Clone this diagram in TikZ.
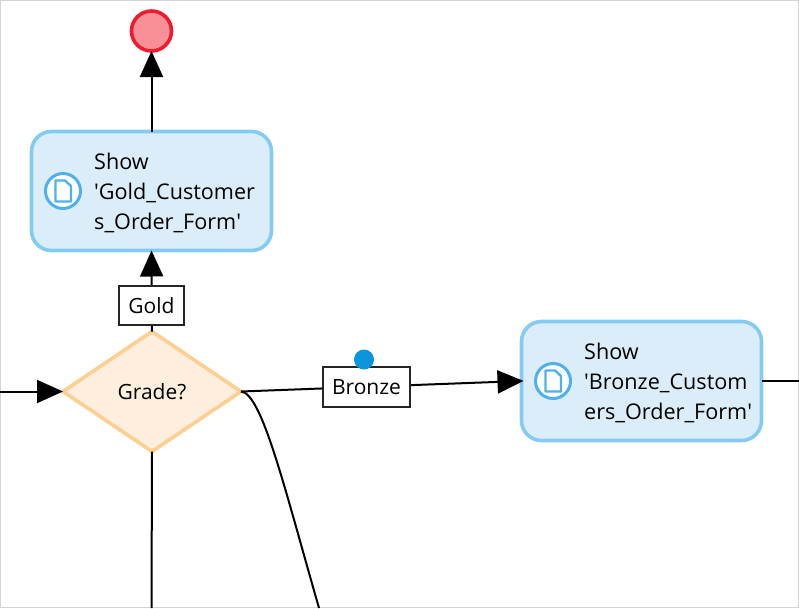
\documentclass[tikz,border=0pt]{standalone}
\usepackage{fontspec}
\setmainfont{Open Sans}
\usetikzlibrary{arrows.meta,shapes.geometric}
\definecolor{Af}{HTML}{DAEDF9}
\definecolor{Ad}{HTML}{83CBF2}
\definecolor{Ic}{HTML}{4FB0F0}
\definecolor{Df}{HTML}{FEEEDD}
\definecolor{Dd}{HTML}{FDCF90}
\definecolor{Ef}{HTML}{FA9097}
\definecolor{Ed}{HTML}{EE1C2E}
\definecolor{Bd}{HTML}{0A94DC}
\definecolor{frame}{HTML}{D4D4D4}
\tikzset{
  action/.style={rectangle, rounded corners=20pt, draw=Ad, fill=Af, line width=3.6pt, outer sep=0pt, minimum width=240pt, minimum height=119pt},
  actiontext/.style={right, inner sep=0pt, align=left, font=\fontsize{21.6}{30}\selectfont},
  decision/.style={diamond, draw=Dd, fill=Df, line width=3.6pt, shape aspect=1.483, inner sep=0pt, outer sep=0pt, minimum width=178pt, minimum height=120pt, font=\fontsize{21}{24}\selectfont},
  endevent/.style={circle, draw=Ed, fill=Ef, line width=3.6pt, inner sep=0pt, outer sep=0pt, minimum size=40pt},
  guard/.style={rectangle, draw=black!85, fill=white, line width=1.8pt, inner sep=0pt, outer sep=0pt, font=\fontsize{21}{24}\selectfont},
  marker/.style={circle, fill=Bd, inner sep=0pt, minimum size=20pt},
  iconring/.style={circle, draw=Ic, fill=white, line width=3pt, inner sep=0pt, minimum size=35pt},
  link/.style={-{Triangle[length=26pt,width=23pt]}, line width=2pt},
  flow/.style={line width=2pt},
}
\newcommand{\pageicon}[1]{%
  \draw[Ic, line width=2.4pt, line join=round] ([shift={(-7.5pt,-10.5pt)}]#1.center) -- ([shift={(8pt,-10.5pt)}]#1.center) -- ([shift={(8pt,5pt)}]#1.center) -- ([shift={(2pt,10.5pt)}]#1.center) -- ([shift={(-7.5pt,10.5pt)}]#1.center) -- cycle;}
\begin{document}
\begin{tikzpicture}[x=1pt, y=-1pt]
  \useasboundingbox (0,0) rectangle (799,608);
  \draw[frame, line width=1pt] (0.5,0.5) rectangle (798.5,607.5);
  % free ends at the edge of the view
  \coordinate (leftin) at (0,391.5);
  \coordinate (bottomout) at (151.5,608);
  \coordinate (curveout) at (319,608);
  \coordinate (rightout) at (799,381);
  \node[endevent] (stop) at (151.5,31) {};
  \node[action] (goldform) at (151.5,191) {};
  \node[decision] (grade) at (152,391.5) {Grade?};
  \node[action] (bronzeform) at (641.5,381) {};
  % connectors
  \draw[link] (goldform.north) -- (stop.south);
  \draw[link] (grade.north) -- (goldform.south);
  \draw[link] (leftin) -- (grade.west);
  \draw[flow] (grade.south) -- (bottomout);
  \draw[link, shorten >=-2pt] (grade.east) -- (bronzeform.west);
  \draw[flow] (bronzeform.east) -- (rightout);
  \draw[flow] (grade.east) .. controls (262,393) and (285,490) .. (curveout);
  % labels on the lines
  \node[guard, minimum width=65pt, minimum height=39pt] (goldlabel) at (151.5,305.5) {Gold};
  \node[guard, minimum width=87pt, minimum height=40pt] (bronzelabel) at (366.5,387) {\raisebox{-1pt}{Bronze}};
  \node[marker] (bronzedot) at (364,359.5) {};
  % form icons
  \node[iconring] (goldicon) at (63,191) {};
  \pageicon{goldicon}
  \node[iconring] (bronzeicon) at (553,381) {};
  \pageicon{bronzeicon}
  \node[actiontext] (goldtext) at (94,193) {Show\\\textquotesingle Gold\_Customer\\s\_Order\_Form\textquotesingle};
  \node[actiontext] (bronzetext) at (584,383) {Show\\\textquotesingle Bronze\_Custom\\ers\_Order\_Form\textquotesingle};
\end{tikzpicture}
\end{document}
